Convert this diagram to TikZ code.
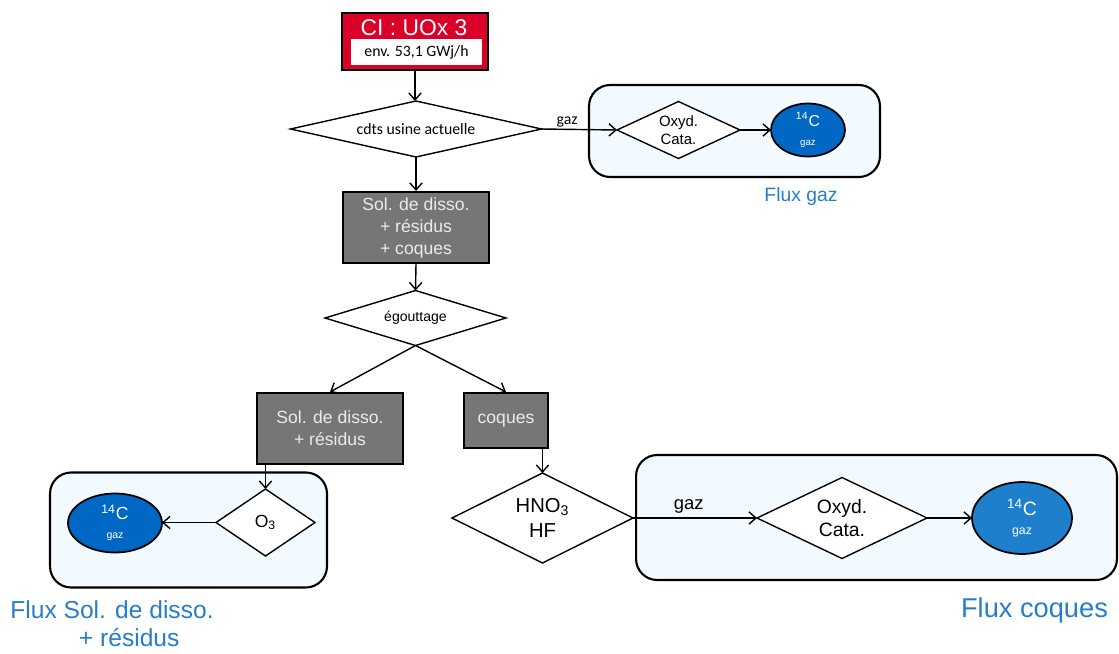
\documentclass[tikz,border=0pt]{standalone}
\usepackage{fontspec}
\setmainfont{Liberation Sans}
\newfontfamily\calibri{Carlito}
\usetikzlibrary{shapes.geometric,positioning,arrows.meta}

\definecolor{ciRed}{RGB}{218,0,40}
\definecolor{procGrey}{RGB}{118,118,118}
\definecolor{procText}{RGB}{235,235,235}
\definecolor{fluxBg}{RGB}{243,250,255}
\definecolor{fluxBlue}{RGB}{40,125,200}
\definecolor{cDark}{RGB}{0,104,196}
\definecolor{cLight}{RGB}{30,128,204}

\tikzstyle{ci} = [rectangle, draw, line width=1.2pt, fill=ciRed,
                  minimum width=2.92cm, minimum height=1.14cm]
\tikzstyle{env} = [rectangle, fill=white, font=\calibri\fontsize{9}{10}\selectfont,
                   minimum width=2.62cm, minimum height=0.52cm, inner sep=0pt]
\tikzstyle{proc} = [rectangle, draw, line width=1.2pt, fill=procGrey, text=procText,
                    align=center, inner sep=0pt, font=\fontsize{10}{12.5}\selectfont]
\tikzstyle{test} = [diamond, draw, line width=0.8pt, fill=white, inner sep=0pt,
                    outer sep=0pt, align=center]
\tikzstyle{c14} = [ellipse, draw, line width=1pt, text=white, align=center,
                   inner sep=0pt, outer sep=0pt]
\tikzstyle{flux} = [rectangle, draw, line width=1.2pt, rounded corners=12pt, fill=fluxBg]
\tikzstyle{flux-label} = [text=fluxBlue, align=center]
\tikzstyle{link} = [-{Straight Barb[length=4pt,width=7pt]}, line width=0.8pt]

\newcommand{\cfourteen}[2]{{\fontsize{#1}{#1}\selectfont\textsuperscript{14}C}\\[-1pt]
  {\fontsize{#2}{#2}\selectfont gaz}}

\begin{document}
\begin{tikzpicture}[x=0.02cm, y=-0.02cm]
  \useasboundingbox (0,0) rectangle (1119,653);

  %% Flux boxes behind
  \node (fluxGaz) [flux, minimum width=5.82cm, minimum height=1.84cm] at (734.5,131) {};
  \node (fluxSol) [flux, minimum width=5.54cm, minimum height=2.3cm] at (188.5,530) {};
  \node (fluxCoq) [flux, minimum width=9.62cm, minimum height=2.5cm] at (876.5,517.5) {};

  %% Main line down
  \node (ci) [ci] at (415,41.5) {};
  \node (ciTitle) [text=white, font=\fontsize{13}{15}\selectfont] at (414,28) {CI : UOx 3};
  \node (ciEnv) [env] at (416.5,52) {env. 53,1 GWj/h};

  \node (usine) [test, aspect=4.5, minimum width=5.02cm, minimum height=1.12cm,
                 font=\calibri\fontsize{9}{11}\selectfont] at (416,129) {cdts usine actuelle};
  \draw [link] (ci.south) -- (ci.south |- usine.north);

  \node (solAll) [proc, minimum width=2.92cm, minimum height=1.42cm] at (416,227.5)
        {Sol. de disso.\\+ résidus\\+ coques};
  \draw [link] (usine.south) -- (solAll.north);

  \node (egout) [test, aspect=3.3, minimum width=3.62cm, minimum height=1.1cm,
                 font=\fontsize{8}{10}\selectfont] at (415.5,318) {égouttage};
  \draw [link] (solAll.south) -- (egout.north);

  \node (sol) [proc, minimum width=2.92cm, minimum height=1.42cm] at (330,428.5)
        {Sol. de disso.\\+ résidus};
  \node (coq) [proc, minimum width=1.68cm, minimum height=1.1cm] at (506,420.5) {coques};
  \draw [link] (egout.south) -- (sol.north);
  \draw [link] (egout.south) -- (coq.north);

  %% Flux gaz
  \node (oxydGaz) [test, aspect=2.2, minimum width=2.46cm, minimum height=1.14cm,
                   font=\fontsize{8.5}{10}\selectfont] at (678.5,130) {Oxyd.\\Cata.};
  \node (cGaz) [c14, fill=cDark, minimum width=1.48cm, minimum height=1.06cm] at (808,130)
        {\cfourteen{9}{5.5}};
  \draw [link] (usine.east) -- (oxydGaz.west)
        node [pos=0.34, above, font=\calibri\fontsize{9}{11}\selectfont, inner sep=1pt] {gaz};
  \draw [link] (oxydGaz.east) -- (cGaz.west);
  \node (lblGaz) [flux-label, font=\fontsize{11}{13}\selectfont] at (801,196) {Flux gaz};

  %% Flux sol. de disso.
  \node (o3) [test, aspect=1.5, minimum width=1.98cm, minimum height=1.34cm,
              font=\fontsize{10}{12}\selectfont] at (265.5,522.5) {O\textsubscript{3}};
  \node (cSol) [c14, fill=cDark, minimum width=1.88cm, minimum height=1.18cm] at (115,523)
        {\cfourteen{10}{6}};
  \draw [link] (o3.west) -- (cSol.east |- o3.west);
  \draw [link] (o3.north |- sol.south) -- (o3.north);
  \node (lblSol) [flux-label, font=\fontsize{14}{16}\selectfont] at (112,624)
        {Flux Sol. de disso.\\\hspace*{1.4em}+ résidus};

  %% Flux coques
  \node (hno) [test, aspect=2, minimum width=3.62cm, minimum height=1.8cm,
               font=\fontsize{11.5}{14}\selectfont] at (542.5,518) {HNO\textsubscript{3}\\HF};
  \draw [link] (hno.north |- coq.south) -- (hno.north);
  \node (oxydCoq) [test, aspect=2.1, minimum width=3.4cm, minimum height=1.62cm,
                   font=\fontsize{11}{13}\selectfont] at (842,518) {Oxyd.\\Cata.};
  \node (cCoq) [c14, fill=cLight, minimum width=2cm, minimum height=1.44cm] at (1022,518)
        {\cfourteen{11}{7}};
  \draw [link] (hno.east) -- (oxydCoq.west)
        node [pos=0.45, above, font=\fontsize{10.5}{12}\selectfont, inner sep=2pt] {gaz};
  \draw [link] (oxydCoq.east) -- (cCoq.west);
  \node (lblCoq) [flux-label, font=\fontsize{15.5}{18}\selectfont] at (1034.5,610) {Flux coques};

\end{tikzpicture}
\end{document}
